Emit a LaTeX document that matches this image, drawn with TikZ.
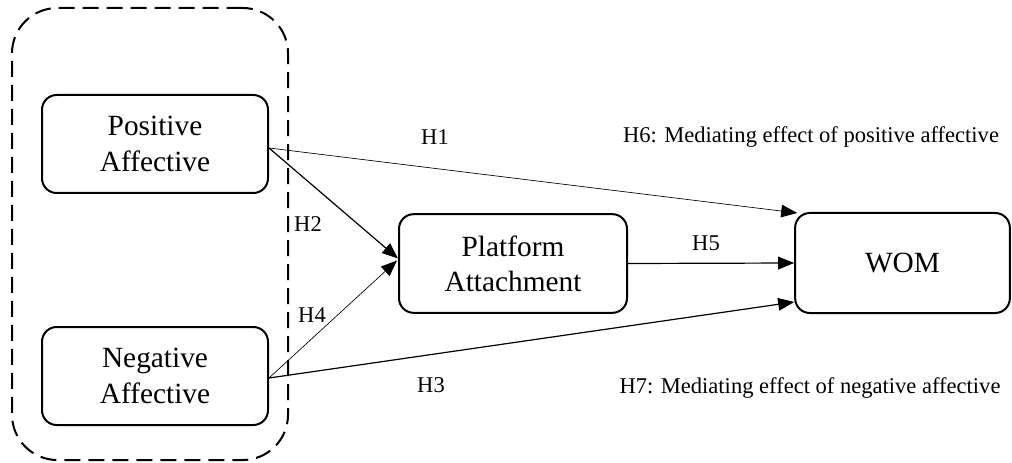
\documentclass[tikz,border=0pt]{standalone}
\usepackage{fontspec}
\setmainfont{Liberation Serif}
\usetikzlibrary{arrows.meta,calc}
\tikzset{
  construct/.style={draw,line width=1.5pt,rounded corners=11pt,align=center,
    font=\fontsize{22}{26.5}\selectfont,inner sep=0pt},
  grp/.style={draw,line width=1.5pt,dash pattern=on 12pt off 6pt,rounded corners=34pt,inner sep=0pt},
  hyp/.style={font=\fontsize{16.9}{20}\selectfont,inner sep=0pt},
  link/.style={-{Triangle[length=12pt,width=9.5pt]},line width=0.9pt},
  thin link/.style={link,line width=0.5pt}
}
\begin{document}
\begin{tikzpicture}[x=0.75pt,y=-0.75pt]
			\useasboundingbox (0,0) rectangle (1012,463);
			% group of affective constructs
			\node[grp,minimum width=207pt,minimum height=339pt] (grp) at (150,234) {};
			\node[construct,minimum width=169.5pt,minimum height=73.5pt] (pos) at (155,144) {Positive\\Affective};
			\node[construct,minimum width=169.5pt,minimum height=73.5pt] (neg) at (155,376) {Negative\\Affective};
			\node[construct,minimum width=171pt,minimum height=74pt] (plat) at (513,263.5) {Platform\\Attachment};
			\node[construct,minimum width=161pt,minimum height=75pt] (wom) at (902.5,263) {WOM};
			% paths
			\draw[thin link] ($(pos.east)+(0,4)$) -- ($(wom.north west)+(3,1)$);
			\draw[link] ($(pos.east)+(0,4)$) -- ($(plat.west)+(0,-5)$);
			\draw[thin link] ($(neg.east)+(0,2)$) -- ($(plat.west)+(-1,-3)$);
			\draw[link] ($(neg.east)+(0,2)$) -- ($(wom.west)+(0,39)$);
			\draw[link] (plat.east) -- (wom.west);
			% hypotheses
			\node[hyp] (h1) at (435,137) {H1};
			\node[hyp] (h2) at (308,224) {H2};
			\node[hyp] (h4) at (312,315) {H4};
			\node[hyp] (h5) at (706,243) {H5};
			\node[hyp] (h3) at (431,385) {H3};
			\node[hyp] (h6) at (811,137) {H6: Mediating effect of positive affective};
			\node[hyp] (h7) at (810,388) {H7: Mediating effect of negative affective};
		\end{tikzpicture}
\end{document}
